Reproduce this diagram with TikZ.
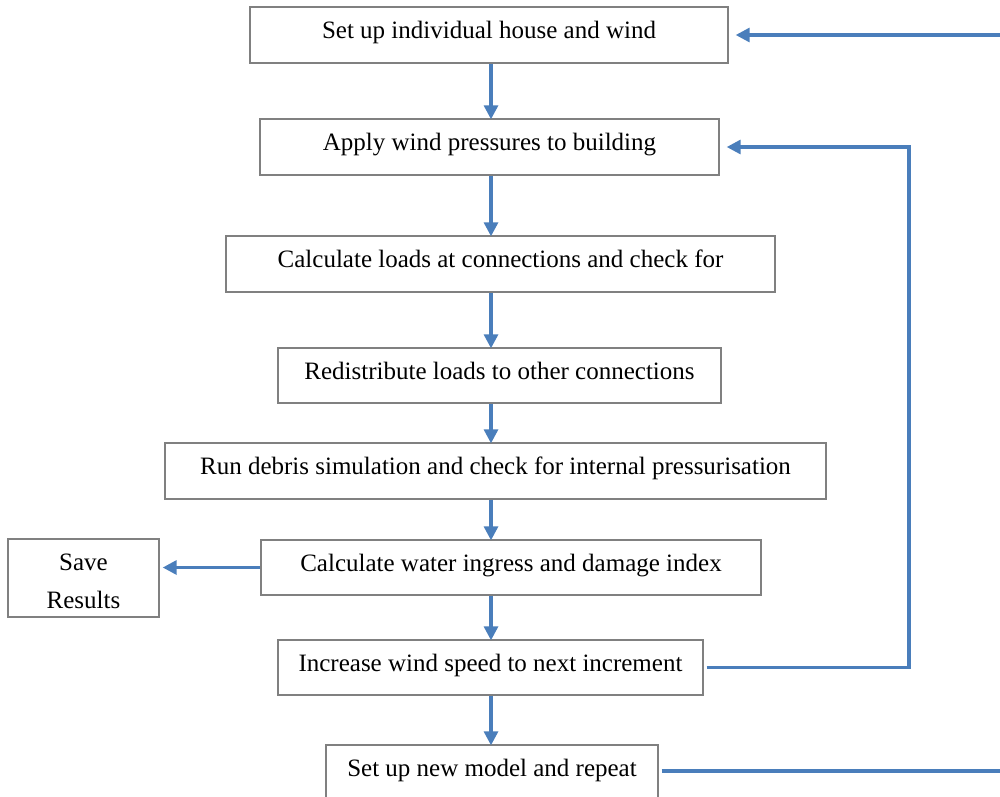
\documentclass[tikz,border=0pt]{standalone}
\usepackage{fontspec}
\setmainfont{Liberation Serif}
\usetikzlibrary{arrows.meta}
\definecolor{flowblue}{RGB}{74,126,187}
\definecolor{boxgray}{RGB}{128,128,128}
\tikzset{
  stepbox/.style={draw=boxgray, line width=1.4pt, fill=white, inner xsep=0pt, inner ysep=0pt,
    font=\fontsize{25}{30}\selectfont, text height=31pt, text depth=25pt},
  flow/.style={draw=flowblue, line width=3.2pt, -{Triangle[length=14pt,width=14pt]}},
  flowline/.style={draw=flowblue, line width=3.2pt},
}
\begin{document}
\begin{tikzpicture}[x=1pt,y=-1pt]
\clip (0,0) rectangle (1000,796);
\fill[white] (0,0) rectangle (1000,796);
\node[stepbox, minimum width=478pt] (b1) at (489,35) {Set up individual house and wind};
\node[stepbox, minimum width=459pt] (b2) at (489.5,147) {Apply wind pressures to building};
\node[stepbox, minimum width=549pt] (b3) at (500.5,264) {Calculate loads at connections and check for};
\node[stepbox, minimum width=443pt, text depth=24pt] (b4) at (499.5,375.5) {Redistribute loads to other connections};
\node[stepbox, minimum width=661pt] (b5) at (495.5,471) {Run debris simulation and check for internal pressurisation};
\node[stepbox, minimum width=500pt, text depth=24pt] (b6) at (511,567.5) {Calculate water ingress and damage index};
\node[stepbox, minimum width=425pt, text depth=24pt] (b7) at (490.5,667.5) {Increase wind speed to next increment};
\node[stepbox, minimum width=332pt] (b8) at (492,773) {Set up new model and repeat};
\node[draw=boxgray, line width=1.4pt, fill=white, minimum width=151pt, minimum height=78pt, inner sep=0pt,
  align=center, font=\fontsize{25}{38}\selectfont] (save) at (83.5,578) {\rule{0pt}{23pt}Save\\Results};
\coordinate (ax) at (491,0);
\coordinate (fbx) at (909,0);
\coordinate (redge1) at (1002,35);
\coordinate (redge8) at (1002,771);
% vertical arrows
\draw[flow] (b1.south -| ax) -- ([yshift=-1pt]b2.north -| ax);
\draw[flow] (b2.south -| ax) -- ([yshift=-1pt]b3.north -| ax);
\draw[flow] (b3.south -| ax) -- ([yshift=-1pt]b4.north -| ax);
\draw[flow] (b4.south -| ax) -- ([yshift=-1pt]b5.north -| ax);
\draw[flow] (b5.south -| ax) -- ([yshift=-1pt]b6.north -| ax);
\draw[flow] (b6.south -| ax) -- ([yshift=-1pt]b7.north -| ax);
\draw[flow] (b7.south -| ax) -- ([yshift=-1pt]b8.north -| ax);
% save
\draw[flow] (b6.west) -- ([xshift=3pt]save.east |- b6.west);
% feedback loop
\draw[flow] ([xshift=3pt]b7.east) -| (fbx |- b2.east) -- ([xshift=7pt]b2.east);
% outer loop
\draw[flowline] ([xshift=3pt]b8.east |- redge8) -- (redge8);
\draw[flow] (redge1) -- ([xshift=7pt]b1.east);
\end{tikzpicture}
\end{document}
